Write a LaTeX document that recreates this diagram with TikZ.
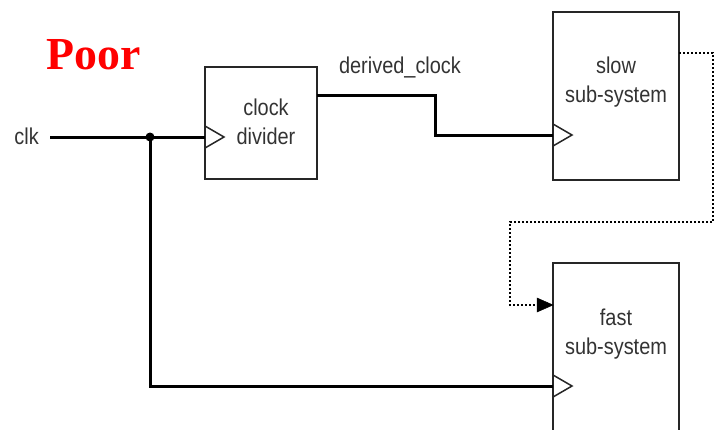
\documentclass[tikz,border=0pt]{standalone}
\usepackage{fontspec}
\setmainfont{Liberation Serif}
\newfontfamily\wirefont[FakeStretch=0.87]{Liberation Sans}
\usetikzlibrary{calc,arrows.meta}
\begin{document}
\begin{tikzpicture}[x=1bp,y=-1bp,
  blk/.style={draw=black!85,line width=1.8bp,fill=white,inner sep=0pt,outer sep=0pt,rectangle},
  wire/.style={line width=3bp,black},
  dotwire/.style={line width=1.8bp,black,dash pattern=on 2bp off 2bp},
  clktri/.style={line width=1.5bp,black!85,line join=miter},
  lbl/.style={font=\wirefont\fontsize{23}{29}\selectfont,text=black!80,inner sep=0pt,align=center}]
\useasboundingbox (0,0) rectangle (715,429);
\clip (0,0) rectangle (715,429);
\fill[white] (0,0) rectangle (715,429);
% title
\node[text=red,font=\bfseries\fontsize{46}{50}\selectfont,inner sep=0pt] (title) at (94,55) {Poor};
% blocks
\node[blk,minimum width=112bp,minimum height=112bp] (cdiv) at (261,123) {};
\node[blk,minimum width=126bp,minimum height=168bp] (slow) at (616,96) {};
\node[blk,minimum width=126bp,minimum height=190bp] (fast) at (616,358) {};
% block texts
\node[lbl] (cdivtxt) at (266,122) {clock\\divider};
\node[lbl] (slowtxt) at ($(slow.north)+(0,70)$) {slow\\sub-system};
\node[lbl] (fasttxt) at ($(fast.north)+(0,71)$) {fast\\sub-system};
% clk input
\node[lbl,anchor=east] (clk) at (39,136) {clk};
\coordinate (clkin) at (50,137);
\coordinate (junc) at (150,137);
\coordinate (cdivin) at (cdiv.west |- junc);
\coordinate (slowin) at (553,135);
\coordinate (fastin) at (553,386);
\coordinate (bend) at (435,95);
\coordinate (cdivout) at (cdiv.east |- bend);
\draw[wire] (clkin) -- (cdivin);
\fill (junc) circle (4.5bp);
\draw[wire] (junc) |- (fastin);
\draw[wire] (cdivout) -- (bend) |- (slowin);
\node[lbl,anchor=center] (dclk) at (400,67) {derived\_clock};
% dotted feedback
\coordinate (slowout) at (679,53);
\coordinate (fastfb) at (553,305);
\draw[dotwire] (slowout) -- (713,53) -- (713,222) -- (510,222) -- (510,305) -- ($(fastfb)+(-14,0)$);
\draw[fill=black,line width=0.5bp] (fastfb) -- ++(-16,-7) -- ++(0,14) -- cycle;
% clock triangles
\draw[clktri] ($(cdivin)+(0,-11)$) -- ++(19,11) -- ++(-19,11);
\draw[clktri] ($(slowin)+(0,-11)$) -- ++(19,11) -- ++(-19,11);
\draw[clktri] ($(fastin)+(0,-11)$) -- ++(19,11) -- ++(-19,11);
\end{tikzpicture}
\end{document}
